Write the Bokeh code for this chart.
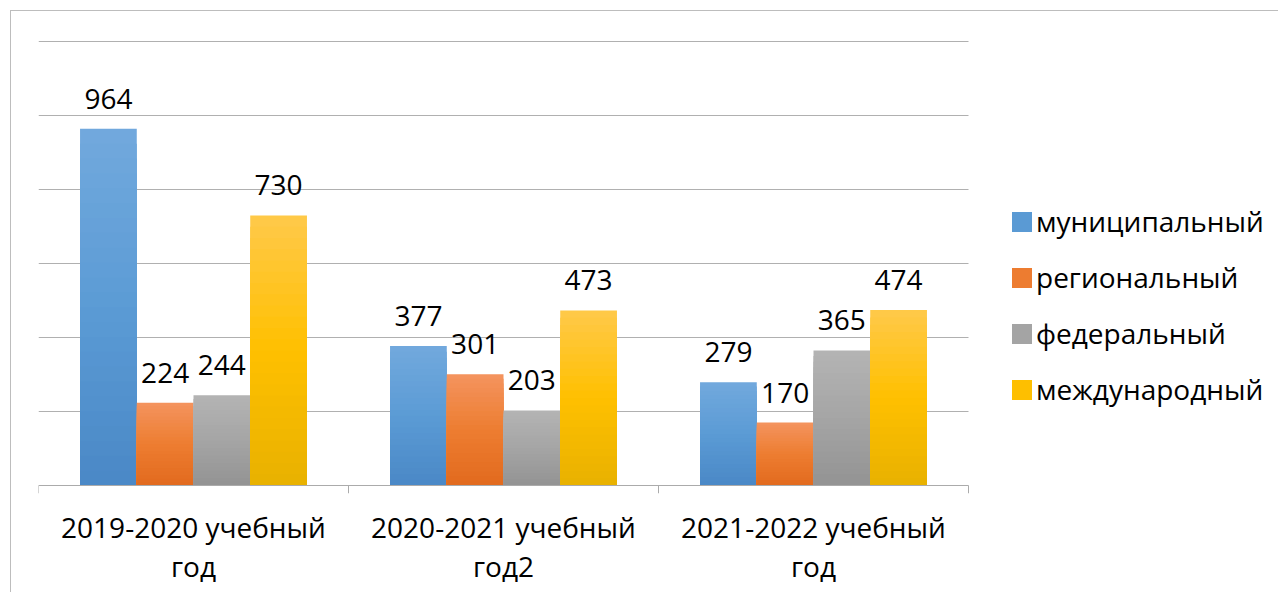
from bokeh.plotting import figure
from bokeh.models import ColumnDataSource, Legend, LegendItem, FixedTicker
from bokeh.core.properties import value
from bokeh.embed import file_html
from bokeh.resources import INLINE

categories = ["2019-2020 учебный\nгод", "2020-2021 учебный\nгод2", "2021-2022 учебный\nгод"]
series = ["муниципальный", "региональный", "федеральный", "международный"]
municipal = [964, 377, 279]
regional = [224, 301, 170]
federal = [244, 203, 365]
international = [730, 473, 474]
values_by_series = [municipal, regional, federal, international]
grid_values = [200, 400, 600, 800, 1000, 1200]

# gradient stops (top, middle, bottom) per series
grad = [
    ("#72A9DD", "#5B9BD5", "#4A88C6"),
    ("#F4945F", "#ED7D31", "#E26A1E"),
    ("#B4B4B4", "#A5A5A5", "#939393"),
    ("#FFC94A", "#FFC000", "#E8B100"),
]
offsets = [-0.2745, -0.0915, 0.0915, 0.2745]
BAR_W = 0.183
NSLICE = 24
FONT = "Open Sans"
NCAT = len(categories)
centers = [i + 0.5 for i in range(NCAT)]
Y0 = -21.6

def hex2rgb(h):
    h = h.lstrip("#")
    return tuple(int(h[i:i + 2], 16) for i in (0, 2, 4))

def mix(c1, c2, t):
    a, b = hex2rgb(c1), hex2rgb(c2)
    return "#%02x%02x%02x" % tuple(round(a[i] + (b[i] - a[i]) * t) for i in range(3))

def grad_color(stops, f):  # f: 0 bottom -> 1 top
    top, mid, bot = stops
    if f < 0.5:
        return mix(bot, mid, f / 0.5)
    return mix(mid, top, (f - 0.5) / 0.5)

W, H = 1268, 582
ML, MR, MT, MB = 27, 0, 29, 100
frame_w = W - ML - MR
x_end = NCAT * frame_w / 930.0  # 930 px for the three categories

p = figure(
    x_range=(0, x_end), y_range=(Y0, 1202.7),
    width=W, height=H,
    output_backend="svg", toolbar_location=None,
    min_border_left=ML, min_border_right=MR,
    min_border_top=MT, min_border_bottom=MB,
)
p.styles = {"margin-left": "10px", "margin-top": "10px",
            "border-left": "1px solid #bdbdbd", "border-top": "1px solid #bdbdbd"}
p.outline_line_color = None
p.background_fill_color = "white"
p.border_fill_color = "white"
p.grid.visible = False

# gridlines over the category span only
p.segment(x0=[0] * len(grid_values), x1=[NCAT] * len(grid_values),
          y0=grid_values, y1=grid_values, line_color="#b0b0b0", line_width=1)

items = []
for si, (name, vals) in enumerate(zip(series, values_by_series)):
    xs, tops, colors = [], [], []
    for ci in range(NCAT):
        v = vals[ci]
        for k in reversed(range(NSLICE)):
            xs.append(centers[ci] + offsets[si])
            tops.append(v * (k + 1) / NSLICE)
            colors.append(grad_color(grad[si], (k + 0.5) / NSLICE))
    src = ColumnDataSource(dict(x=xs, top=tops, color=colors))
    r = p.vbar(x="x", bottom=0, top="top", width=BAR_W, source=src,
               fill_color="color", line_color=None)
    items.append(LegendItem(label=name, renderers=[r], index=NSLICE // 2))

    lsrc = ColumnDataSource(dict(x=[c + offsets[si] for c in centers], y=vals,
                                 t=[str(v) for v in vals]))
    p.text(x="x", y="y", text="t", source=lsrc,
           text_align="center", text_baseline="alphabetic", y_offset=-30,
           text_font=value(FONT), text_font_size="28px", text_color="#000000")

# axis line and category boundary ticks
p.segment(x0=[0], x1=[NCAT], y0=[0], y1=[0], line_color="#ababab", line_width=1)
bounds = list(range(NCAT + 1))
p.segment(x0=bounds, y0=[0] * len(bounds), x1=bounds, y1=[Y0] * len(bounds),
          line_color="#ababab", line_width=1)

p.yaxis.visible = False
ax = p.xaxis[0]
ax.ticker = FixedTicker(ticks=centers)
ax.major_label_overrides = {c: lab for c, lab in zip(centers, categories)}
ax.axis_line_color = None
ax.major_tick_line_color = None
ax.minor_tick_line_color = None
ax.major_label_text_font = FONT
ax.major_label_text_font_size = "28px"
ax.major_label_text_color = "#000000"
ax.major_label_standoff = 8
ax.major_label_text_line_height = 1.05

legend = Legend(items=items, location=(971, 85), orientation="vertical",
                label_text_font=FONT, label_text_font_size="28px",
                label_text_color="#000000", glyph_width=25, glyph_height=25,
                spacing=18, padding=0, margin=0, border_line_color=None,
                background_fill_alpha=0, label_standoff=2)
p.add_layout(legend, "center")

open("out.html", "w").write(file_html(p, INLINE))
